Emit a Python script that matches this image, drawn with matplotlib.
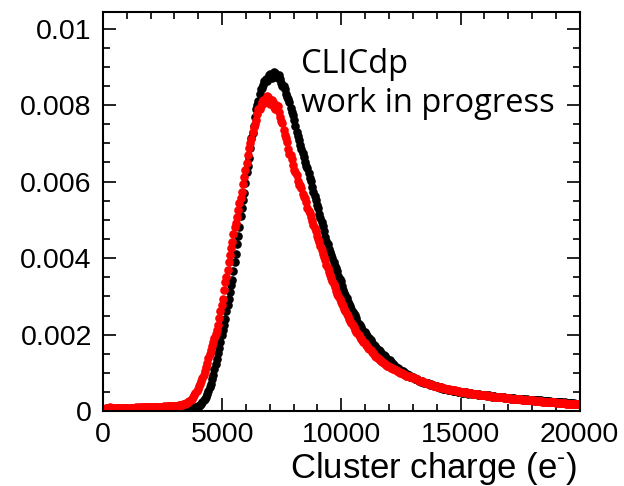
import numpy as np
import matplotlib
matplotlib.use("Agg")
from matplotlib import pyplot as plt
from matplotlib.ticker import MultipleLocator

# bin centres of the cluster charge histogram (50 e- bins, 0 - 20000)
charge = np.arange(25, 20000, 50)

# normalised entries per bin, in units of 1e-4 (black: reference sample)
black_vals = [
    # 0 - 1000
    0.0, 0.1, 0.1, 0.0, 0.1, 0.1, 0.0, 0.1, 0.1, 0.1, 0.0, 0.1, 0.1, 0.0, 0.1, 0.1, 0.1, 0.0, 0.1, 0.1,
    # 1000 - 2000
    0.1, 0.1, 0.0, 0.1, 0.1, 0.1, 0.1, 0.0, 0.1, 0.1, 0.1, 0.1, 0.1, 0.1, 0.1, 0.1, 0.1, 0.1, 0.1, 0.1,
    # 2000 - 3000
    0.1, 0.1, 0.1, 0.1, 0.2, 0.1, 0.1, 0.2, 0.1, 0.2, 0.2, 0.2, 0.1, 0.2, 0.2, 0.2, 0.2, 0.2, 0.2, 0.2,
    # 3000 - 4000
    0.3, 0.3, 0.3, 0.3, 0.3, 0.3, 0.4, 0.4, 0.4, 0.4, 0.5, 0.5, 0.6, 0.6, 0.7, 0.8, 0.9, 1.0, 1.1, 1.3,
    # 4000 - 5000
    1.4, 1.7, 2.0, 2.4, 2.8, 3.3, 3.8, 4.5, 5.3, 6.2, 7.2, 8.3, 9.4, 10.9, 12.3, 13.6, 15.1, 16.6, 18.2, 19.8,
    # 5000 - 6000
    21.3, 22.5, 24.0, 26.1, 27.8, 29.4, 31.2, 32.9, 34.4, 36.6, 38.9, 41.2, 43.6, 45.7, 48.1, 50.9, 53.2, 55.1, 57.0, 59.6,
    # 6000 - 7000
    62.4, 64.1, 66.1, 68.9, 71.3, 72.8, 74.6, 77.0, 78.9, 80.1, 81.2, 83.0, 84.3, 84.6, 85.2, 86.3, 86.9, 86.4, 87.0, 87.9,
    # 7000 - 8000
    88.1, 87.2, 87.6, 88.6, 88.4, 87.5, 87.2, 87.9, 86.8, 85.7, 85.1, 85.0, 84.3, 83.0, 82.1, 81.7, 80.8, 79.2, 78.2, 77.5,
    # 8000 - 9000
    76.0, 74.6, 73.0, 72.0, 70.8, 69.5, 68.4, 67.6, 66.4, 65.0, 64.2, 63.5, 62.2, 61.0, 60.1, 58.6, 57.3, 56.3, 55.2, 54.0,
    # 9000 - 10000
    53.0, 51.6, 50.4, 49.4, 48.3, 47.0, 45.6, 44.5, 43.6, 42.3, 41.5, 40.8, 40.0, 38.9, 38.0, 37.4, 36.6, 35.3, 34.6, 34.0,
    # 10000 - 11000
    32.8, 31.8, 31.0, 30.4, 29.6, 28.6, 27.9, 27.5, 26.8, 25.9, 25.5, 25.1, 24.4, 23.4, 22.8, 22.6, 22.1, 21.2, 20.8, 20.6,
    # 11000 - 12000
    20.2, 19.6, 19.2, 19.0, 18.5, 17.8, 17.4, 17.4, 17.0, 16.4, 16.1, 16.0, 15.7, 15.1, 14.7, 14.7, 14.3, 13.8, 13.5, 13.4,
    # 12000 - 13000
    13.3, 12.8, 12.5, 12.4, 12.1, 11.6, 11.3, 11.3, 11.0, 10.6, 10.4, 10.4, 10.2, 9.8, 9.6, 9.6, 9.4, 9.0, 8.9, 8.9,
    # 13000 - 14000
    8.8, 8.5, 8.3, 8.4, 8.2, 7.8, 7.7, 7.8, 7.7, 7.4, 7.3, 7.4, 7.3, 7.0, 6.9, 7.0, 6.9, 6.6, 6.5, 6.6,
    # 14000 - 15000
    6.5, 6.2, 6.1, 6.2, 6.1, 5.9, 5.8, 5.9, 5.8, 5.6, 5.5, 5.6, 5.5, 5.3, 5.2, 5.3, 5.3, 5.1, 5.0, 5.1,
    # 15000 - 16000
    5.0, 4.8, 4.8, 4.9, 4.9, 4.7, 4.6, 4.7, 4.7, 4.5, 4.4, 4.5, 4.5, 4.4, 4.3, 4.4, 4.3, 4.2, 4.1, 4.2,
    # 16000 - 17000
    4.2, 4.1, 4.0, 4.1, 4.0, 3.9, 3.8, 3.9, 3.9, 3.8, 3.7, 3.8, 3.7, 3.7, 3.6, 3.7, 3.6, 3.5, 3.4, 3.5,
    # 17000 - 18000
    3.5, 3.4, 3.3, 3.4, 3.4, 3.3, 3.2, 3.3, 3.3, 3.2, 3.1, 3.2, 3.2, 3.1, 3.0, 3.1, 3.0, 3.0, 2.9, 3.0,
    # 18000 - 19000
    2.9, 2.9, 2.8, 2.9, 2.8, 2.8, 2.7, 2.8, 2.7, 2.7, 2.6, 2.7, 2.6, 2.6, 2.5, 2.6, 2.5, 2.5, 2.4, 2.5,
    # 19000 - 20000
    2.4, 2.4, 2.3, 2.4, 2.3, 2.3, 2.2, 2.3, 2.2, 2.2, 2.1, 2.2, 2.1, 2.1, 2.0, 2.1, 2.0, 2.0, 1.9, 2.0,
]

# red: comparison sample
red_vals = [
    # 0 - 1000
    0.3, 0.6, 0.8, 0.9, 0.8, 1.0, 0.9, 0.8, 0.9, 0.9, 0.8, 0.9, 0.8, 0.8, 0.9, 0.8, 0.9, 0.8, 0.9, 0.9,
    # 1000 - 2000
    0.8, 0.9, 0.9, 0.8, 0.9, 0.9, 0.9, 1.0, 0.9, 0.9, 1.0, 1.0, 0.9, 1.0, 1.0, 1.1, 1.0, 1.0, 1.1, 1.1,
    # 2000 - 3000
    1.0, 1.1, 1.1, 1.1, 1.1, 1.2, 1.2, 1.1, 1.2, 1.2, 1.2, 1.3, 1.2, 1.3, 1.3, 1.3, 1.3, 1.4, 1.3, 1.4,
    # 3000 - 4000
    1.4, 1.4, 1.4, 1.5, 1.5, 1.6, 1.7, 1.8, 1.9, 2.1, 2.2, 2.4, 2.7, 3.0, 3.3, 3.7, 4.2, 4.7, 5.2, 5.8,
    # 4000 - 5000
    6.5, 7.1, 7.8, 8.6, 9.5, 10.4, 11.5, 12.6, 13.8, 14.9, 16.0, 17.0, 18.1, 19.1, 20.2, 21.3, 22.6, 24.3, 26.1, 27.7,
    # 5000 - 6000
    29.4, 31.6, 33.7, 35.1, 36.8, 38.9, 40.7, 42.6, 44.3, 46.4, 48.2, 49.3, 50.8, 52.7, 54.3, 55.6, 57.2, 59.4, 61.3, 63.0,
    # 6000 - 7000
    64.8, 66.9, 68.7, 70.1, 71.2, 72.9, 74.3, 75.0, 76.1, 77.8, 78.9, 79.0, 79.7, 80.9, 81.4, 80.6, 81.0, 82.3, 82.1, 80.7,
    # 7000 - 8000
    80.2, 81.3, 80.9, 79.4, 79.1, 80.0, 79.8, 78.1, 76.8, 75.9, 75.3, 73.6, 72.1, 71.5, 70.4, 68.6, 67.2, 66.9, 65.9, 64.4,
    # 8000 - 9000
    63.1, 62.5, 61.8, 60.2, 59.2, 59.0, 58.3, 56.8, 56.1, 55.6, 54.8, 53.1, 52.2, 51.7, 50.8, 49.6, 48.6, 47.9, 47.0, 45.9,
    # 9000 - 10000
    45.0, 44.3, 43.2, 42.1, 41.2, 40.3, 39.4, 38.1, 37.3, 36.5, 35.5, 34.8, 33.9, 33.3, 32.4, 31.4, 30.7, 30.2, 29.4, 28.6,
    # 10000 - 11000
    28.0, 27.5, 26.8, 26.1, 25.5, 24.9, 24.2, 23.6, 23.0, 22.6, 22.0, 21.3, 20.8, 20.4, 19.8, 19.3, 18.9, 18.6, 18.1, 17.7,
    # 11000 - 12000
    17.4, 17.0, 16.6, 16.3, 15.9, 15.5, 15.2, 14.9, 14.5, 14.2, 14.0, 13.7, 13.4, 13.1, 12.8, 12.6, 12.3, 12.1, 11.8, 11.7,
    # 12000 - 13000
    11.6, 11.4, 11.2, 11.0, 10.9, 10.7, 10.5, 10.4, 10.2, 10.0, 9.9, 9.7, 9.6, 9.5, 9.3, 9.2, 9.1, 9.0, 8.9, 8.8,
    # 13000 - 14000
    8.7, 8.6, 8.4, 8.3, 8.2, 8.0, 7.9, 7.8, 7.7, 7.6, 7.4, 7.3, 7.2, 7.1, 7.0, 6.9, 6.8, 6.7, 6.6, 6.5,
    # 14000 - 15000
    6.4, 6.4, 6.3, 6.2, 6.1, 6.0, 6.0, 5.9, 5.8, 5.8, 5.7, 5.6, 5.6, 5.5, 5.4, 5.4, 5.3, 5.3, 5.2, 5.1,
    # 15000 - 16000
    5.1, 5.0, 5.0, 4.9, 4.9, 4.8, 4.8, 4.7, 4.7, 4.6, 4.6, 4.5, 4.5, 4.4, 4.4, 4.3, 4.3, 4.2, 4.2, 4.2,
    # 16000 - 17000
    4.1, 4.1, 4.0, 4.0, 4.0, 3.9, 3.9, 3.8, 3.8, 3.8, 3.7, 3.7, 3.7, 3.6, 3.6, 3.6, 3.5, 3.5, 3.5, 3.4,
    # 17000 - 18000
    3.4, 3.4, 3.3, 3.3, 3.3, 3.2, 3.2, 3.2, 3.1, 3.1, 3.1, 3.0, 3.0, 3.0, 2.9, 2.9, 2.9, 2.9, 2.8, 2.8,
    # 18000 - 19000
    2.8, 2.7, 2.7, 2.7, 2.7, 2.6, 2.6, 2.6, 2.5, 2.5, 2.5, 2.5, 2.4, 2.4, 2.4, 2.4, 2.3, 2.3, 2.3, 2.3,
    # 19000 - 20000
    2.2, 2.2, 2.2, 2.2, 2.1, 2.1, 2.1, 2.1, 2.0, 2.0, 2.0, 2.0, 1.9, 1.9, 1.9, 1.9, 1.8, 1.8, 1.8, 1.8,
]

black = np.array(black_vals) * 1e-4
red = np.array(red_vals) * 1e-4

plt.rcParams['font.family'] = 'Liberation Sans'
plt.rcParams['mathtext.fontset'] = 'custom'
plt.rcParams['mathtext.rm'] = 'Liberation Sans'
plt.rcParams['mathtext.it'] = 'Liberation Sans'

fig = plt.figure(figsize=(6.24, 4.86), dpi=100)
ax = fig.add_axes([0.165, 0.154, 0.764, 0.821])

ax.plot(charge, black, 'o', color='black', ms=6.2, mew=0)
ax.plot(charge, red, 'o', color='red', ms=6.2, mew=0)

ax.set_xlim(0, 20000)
ax.set_ylim(0, 0.01043)
ax.xaxis.set_major_locator(MultipleLocator(5000))
ax.xaxis.set_minor_locator(MultipleLocator(1000))
ax.yaxis.set_minor_locator(MultipleLocator(0.0005))
ax.set_yticks([0, 0.002, 0.004, 0.006, 0.008, 0.01])
ax.set_yticklabels(['0', '0.002', '0.004', '0.006', '0.008', '0.01'])
ax.tick_params(which='both', direction='in', top=True, right=True, width=1.2,
               labelsize=20.5, pad=8)
ax.tick_params(which='major', length=9.5)
ax.tick_params(which='minor', length=5)
for s in ax.spines.values():
    s.set_linewidth(1.5)

fig.text(577 / 624, 1 - 478 / 486, r'Cluster charge (e$^{\text{-}}$)', fontsize=25,
         ha='right', va='baseline')

fig.text(0.483, 1 - 73 / 486, 'CLICdp', fontsize=23.5, family='Open Sans',
         va='baseline', ha='left')
fig.text(0.483, 1 - 112 / 486, 'work in progress', fontsize=23.5,
         family='Open Sans', va='baseline', ha='left')

plt.savefig('out.png', dpi=100)
